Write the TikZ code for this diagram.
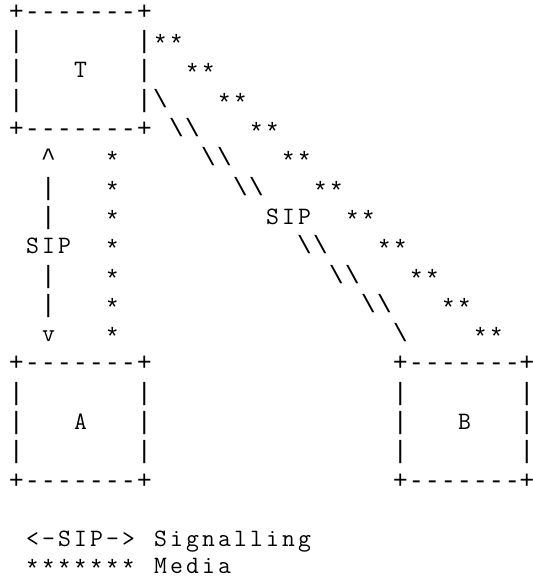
\documentclass[tikz,border=0pt]{standalone}
\usepackage{fontspec}
\newfontfamily\asclinefont{Liberation Mono}
\makeatletter
% one fixed-width cell per character, like a terminal
\newcommand\asccells[1]{\@tfor\asc@ch:=#1\do{\makebox[8pt]{\asc@ch}}}
\makeatother
\begin{document}
\begin{tikzpicture}
  \tikzstyle{asc} = [font=\ttfamily\fontsize{12.5}{12.5}\selectfont, anchor=base west, inner sep=0pt, outer sep=0pt]
  \tikzstyle{ascline} = [asc, font=\asclinefont\fontsize{12.5}{12.5}\selectfont]
  \tikzstyle{ascstar} = [ascline, yshift=-2pt]
  \tikzstyle{ascedge} = [ascline, anchor=base]

  \useasboundingbox (0,0) rectangle (266pt,-290pt);
  \begin{scope}[shift={(4.25pt,-9.65pt)}, x=8pt, y=14.65pt]
  % box T
  \node [ascline] at (0,0) (tTop) {\asccells{+-------+}};
  \node [ascline] at (0,-1) (tL1) {\asccells{|}};
  \node [ascline] at (8,-1) (tR1) {\asccells{|}};
  \node [ascline] at (0,-2) (tL2) {\asccells{|}};
  \node [asc] at (4,-2) (tLabel) {\asccells{T}};
  \node [ascline] at (8,-2) (tR2) {\asccells{|}};
  \node [ascline] at (0,-3) (tL3) {\asccells{|}};
  \node [ascline] at (8,-3) (tR3) {\asccells{|}};
  \node [ascline] at (0,-4) (tBot) {\asccells{+-------+}};

  % media T -- B
  \node [ascstar] at (9,-1) (mTB1) {\asccells{**}};
  \node [ascstar] at (11,-2) (mTB2) {\asccells{**}};
  \node [ascstar] at (13,-3) (mTB3) {\asccells{**}};
  \node [ascstar] at (15,-4) (mTB4) {\asccells{**}};
  \node [ascstar] at (17,-5) (mTB5) {\asccells{**}};
  \node [ascstar] at (19,-6) (mTB6) {\asccells{**}};
  \node [ascstar] at (21,-7) (mTB7) {\asccells{**}};
  \node [ascstar] at (23,-8) (mTB8) {\asccells{**}};
  \node [ascstar] at (25,-9) (mTB9) {\asccells{**}};
  \node [ascstar] at (27,-10) (mTB10) {\asccells{**}};
  \node [ascstar] at (29,-11) (mTB11) {\asccells{**}};

  % signalling T -- B
  \node [ascline] at (9,-3) (sTB3) {\asccells{\textbackslash}};
  \node [ascline] at (10,-4) (sTB4) {\asccells{\textbackslash\textbackslash}};
  \node [ascline] at (12,-5) (sTB5) {\asccells{\textbackslash\textbackslash}};
  \node [ascline] at (14,-6) (sTB6) {\asccells{\textbackslash\textbackslash}};
  \node [asc] at (16,-7) (sipTB) {\asccells{SIP}};
  \node [ascline] at (18,-8) (sTB8) {\asccells{\textbackslash\textbackslash}};
  \node [ascline] at (20,-9) (sTB9) {\asccells{\textbackslash\textbackslash}};
  \node [ascline] at (22,-10) (sTB10) {\asccells{\textbackslash\textbackslash}};
  \node [ascline] at (24,-11) (sTB11) {\asccells{\textbackslash}};

  % signalling T -- A
  \node [ascline] at (2,-5) (sTAup) {\asccells{\textasciicircum}};
  \node [ascline] at (2,-6) (sTA6) {\asccells{|}};
  \node [ascline] at (2,-7) (sTA7) {\asccells{|}};
  \node [asc] at (1,-8) (sipTA) {\asccells{SIP}};
  \node [ascline] at (2,-9) (sTA9) {\asccells{|}};
  \node [ascline] at (2,-10) (sTA10) {\asccells{|}};
  \node [asc] at (2,-11) (sTAdown) {\asccells{v}};

  % media T -- A
  \node [ascstar] at (6,-5) (mTA5) {\asccells{*}};
  \node [ascstar] at (6,-6) (mTA6) {\asccells{*}};
  \node [ascstar] at (6,-7) (mTA7) {\asccells{*}};
  \node [ascstar] at (6,-8) (mTA8) {\asccells{*}};
  \node [ascstar] at (6,-9) (mTA9) {\asccells{*}};
  \node [ascstar] at (6,-10) (mTA10) {\asccells{*}};
  \node [ascstar] at (6,-11) (mTA11) {\asccells{*}};

  % box A
  \node [ascline] at (0,-12) (aTop) {\asccells{+-------+}};
  \node [ascline] at (0,-13) (aL13) {\asccells{|}};
  \node [ascline] at (8,-13) (aR13) {\asccells{|}};
  \node [ascline] at (0,-14) (aL14) {\asccells{|}};
  \node [asc] at (4,-14) (aLabel) {\asccells{A}};
  \node [ascline] at (8,-14) (aR14) {\asccells{|}};
  \node [ascline] at (0,-15) (aL15) {\asccells{|}};
  \node [ascline] at (8,-15) (aR15) {\asccells{|}};
  \node [ascline] at (0,-16) (aBot) {\asccells{+-------+}};

  % box B, right edge sits on the border
  \node [ascline] at (24,-12) (bTop) {\asccells{+-------}};
  \node [ascedge] at (32.4,-12) (bTopR) {\makebox[0pt]{+}};
  \node [ascline] at (24,-13) (bL13) {\asccells{|}};
  \node [ascedge] at (32.4,-13) (bR13) {\makebox[0pt]{|}};
  \node [ascline] at (24,-14) (bL14) {\asccells{|}};
  \node [asc] at (28,-14) (bLabel) {\asccells{B}};
  \node [ascedge] at (32.4,-14) (bR14) {\makebox[0pt]{|}};
  \node [ascline] at (24,-15) (bL15) {\asccells{|}};
  \node [ascedge] at (32.4,-15) (bR15) {\makebox[0pt]{|}};
  \node [ascline] at (24,-16) (bBot) {\asccells{+-------}};
  \node [ascedge] at (32.4,-16) (bBotR) {\makebox[0pt]{+}};

  % key
  \node [asc] at (1,-18) (keySip) {\asccells{<-SIP->}};
  \node [asc] at (9,-18) (keySipText) {\asccells{Signalling}};
  \node [ascstar] at (1,-18.9) (keyMedia) {\asccells{*******}};
  \node [asc] at (9,-18.9) (keyMediaText) {\asccells{Media}};
  \end{scope}
\end{tikzpicture}
\end{document}
